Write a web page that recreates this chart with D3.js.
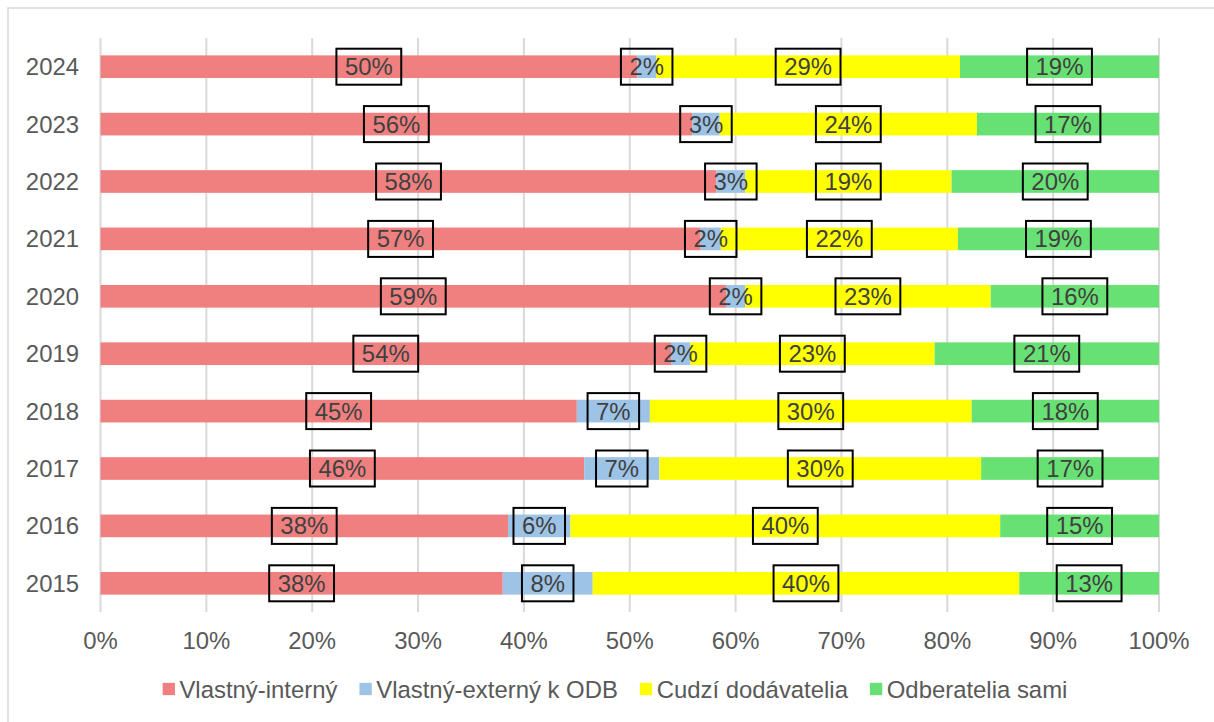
<!DOCTYPE html>
<html>
<head>
<meta charset="utf-8">
<script src="https://cdn.jsdelivr.net/npm/d3@7"></script>
<style>
  body { margin: 0; background: #fff; }
  svg text { font-family: "Liberation Sans", Arial, sans-serif; }
</style>
</head>
<body>
<svg id="chart" width="1214" height="722"></svg>
<script>
// years, top to bottom
const years = ["2024", "2023", "2022", "2021", "2020", "2019", "2018", "2017", "2016", "2015"]
const seriesNames = ["Vlastný-interný", "Vlastný-externý k ODB", "Cudzí dodávatelia", "Odberatelia sami"]
const seriesColors = ["#f08080", "#9dc3e6", "#ffff00", "#68e174"]

// shares (%)
const interny = [50.7, 55.9, 58.2, 56.7, 59.1, 53.9, 45.0, 45.7, 38.5, 38.0]
const externy = [1.8, 2.6, 2.7, 1.9, 1.8, 1.8, 6.9, 7.1, 5.9, 8.5]
const cudzi = [28.7, 24.3, 19.5, 22.4, 23.2, 23.1, 30.4, 30.4, 40.6, 40.3]
const sami = [18.8, 17.2, 19.6, 19.0, 15.9, 21.2, 17.7, 16.8, 15.0, 13.2]

// data labels as printed on the chart
const internyLabels = ["50%", "56%", "58%", "57%", "59%", "54%", "45%", "46%", "38%", "38%"]
const externyLabels = ["2%", "3%", "3%", "2%", "2%", "2%", "7%", "7%", "6%", "8%"]
const cudziLabels = ["29%", "24%", "19%", "22%", "23%", "23%", "30%", "30%", "40%", "40%"]
const samiLabels = ["19%", "17%", "20%", "19%", "16%", "21%", "18%", "17%", "15%", "13%"]

const xTicks = [0, 10, 20, 30, 40, 50, 60, 70, 80, 90, 100]

const fontSize = 23.9
const svg = d3.select("#chart")

// chart border
svg.append("rect")
    .attr("x", 8).attr("y", 8)
    .attr("width", 1230).attr("height", 740)
    .attr("fill", "none")
    .attr("stroke", "#d9d9d9")
    .attr("stroke-width", 1.5)

const x = d3.scaleLinear().domain([0, 100]).range([100.5, 1159])
const y = d3.scaleBand().domain(years).range([38, 612])
    .paddingInner(0.605).paddingOuter(0.3025)

// gridlines
svg.append("g")
    .selectAll("line")
    .data(xTicks)
    .join("line")
    .attr("x1", d => x(d)).attr("x2", d => x(d))
    .attr("y1", 38).attr("y2", 612)
    .attr("stroke", "#d9d9d9")
    .attr("stroke-width", 2)

// stack
const values = [interny, externy, cudzi, sami]
const labels = [internyLabels, externyLabels, cudziLabels, samiLabels]
const rows = years.map((yr, i) => {
    const r = {year: yr}
    seriesNames.forEach((s, k) => r[s] = values[k][i])
    return r
})
const stacked = d3.stack().keys(seriesNames)(rows)

const layers = svg.append("g")
    .selectAll("g")
    .data(stacked)
    .join("g")
    .attr("fill", (d, k) => seriesColors[k])

layers.selectAll("rect")
    .data(d => d)
    .join("rect")
    .attr("x", d => x(d[0]))
    .attr("width", d => x(d[1]) - x(d[0]))
    .attr("y", d => y(d.data.year))
    .attr("height", y.bandwidth())

// data labels with boxes
const labelG = svg.append("g")
stacked.forEach((layer, k) => {
    layer.forEach((d, i) => {
        const cx = (x(d[0]) + x(d[1])) / 2
        const cy = y(d.data.year) + y.bandwidth() / 2
        const g = labelG.append("g")
        const t = g.append("text")
            .attr("x", cx)
            .attr("y", cy)
            .attr("text-anchor", "middle")
            .attr("dominant-baseline", "central")
            .attr("font-size", fontSize)
            .attr("fill", "#404040")
            .text(labels[k][i])
        const w = t.node().getComputedTextLength() + 17
        g.insert("rect", "text")
            .attr("x", cx - w / 2)
            .attr("y", cy - 18)
            .attr("width", w)
            .attr("height", 36)
            .attr("fill", "none")
            .attr("stroke", "#000")
            .attr("stroke-width", 2)
    })
})

// y labels
svg.append("g")
    .selectAll("text")
    .data(years)
    .join("text")
    .attr("x", 79)
    .attr("y", d => y(d) + y.bandwidth() / 2)
    .attr("text-anchor", "end")
    .attr("dominant-baseline", "central")
    .attr("font-size", fontSize)
    .attr("fill", "#595959")
    .text(d => d)

// x labels
svg.append("g")
    .selectAll("text")
    .data(xTicks)
    .join("text")
    .attr("x", d => x(d))
    .attr("y", 640)
    .attr("text-anchor", "middle")
    .attr("dominant-baseline", "central")
    .attr("font-size", fontSize)
    .attr("fill", "#595959")
    .text(d => d + "%")

// legend
const legend = svg.append("g")
const sw = 12.3, gapIn = 4.5, gapOut = 22
let lx = 0
seriesNames.forEach((s, k) => {
    const item = legend.append("g").attr("transform", `translate(${lx},0)`)
    item.append("rect")
        .attr("x", 0).attr("y", -sw / 2)
        .attr("width", sw).attr("height", sw)
        .attr("fill", seriesColors[k])
    const t = item.append("text")
        .attr("x", sw + gapIn)
        .attr("y", 0)
        .attr("dominant-baseline", "central")
        .attr("font-size", fontSize)
        .attr("fill", "#595959")
        .text(s)
    lx += sw + gapIn + t.node().getComputedTextLength() + gapOut
})
const legendW = lx - gapOut
legend.attr("transform", `translate(${615 - legendW / 2},689)`)
</script>
</body>
</html>
